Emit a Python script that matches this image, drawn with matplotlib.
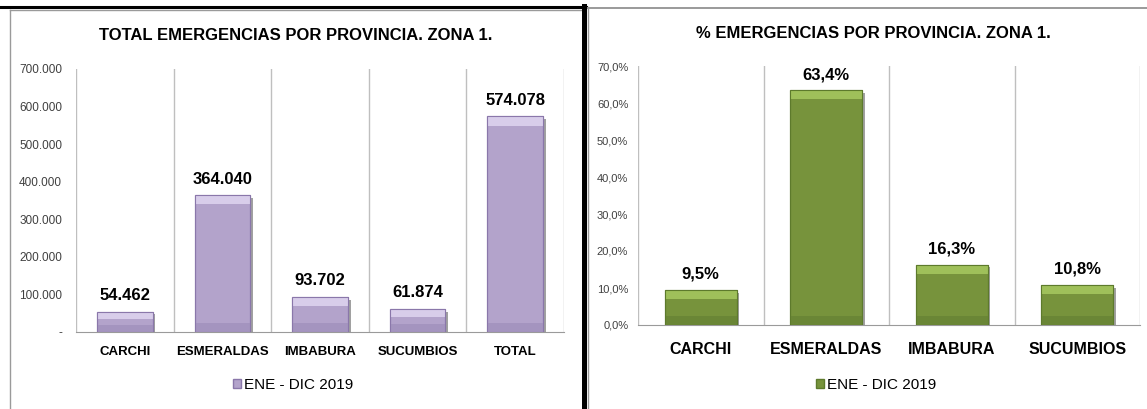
import matplotlib
matplotlib.use('Agg')
import matplotlib.pyplot as plt
import matplotlib.patheffects as pe
from matplotlib.lines import Line2D
from matplotlib.patches import Rectangle
import numpy as np

plt.rcParams['font.family'] = ['Liberation Sans', 'DejaVu Sans']

# data
provincias_total = ['CARCHI', 'ESMERALDAS', 'IMBABURA', 'SUCUMBIOS', 'TOTAL']
emergencias = [54462, 364040, 93702, 61874, 574078]
provincias_pct = ['CARCHI', 'ESMERALDAS', 'IMBABURA', 'SUCUMBIOS']
porcentajes = [9.5, 63.4, 16.3, 10.8]
serie = 'ENE - DIC 2019'


def bevel_bars(ax, x, vals, face, light, dark, edge, ymax):
    shadow = [pe.SimplePatchShadow(offset=(2, -2), alpha=0.45, shadow_rgbFace='#303030'), pe.Normal()]
    bars = ax.bar(x, vals, width=0.57, color=face, edgecolor=edge, linewidth=0.8, zorder=3)
    for b in bars:
        b.set_path_effects(shadow)
    band = [min(0.035 * ymax, v * 0.35) for v in vals]
    ax.bar(x, band, width=0.57, bottom=np.array(vals) - np.array(band), color=light,
           edgecolor='none', zorder=4)
    ax.bar(x, band, width=0.57, color=dark, edgecolor='none', zorder=4)
    ax.bar(x, vals, width=0.57, color='none', edgecolor=edge, linewidth=0.8, zorder=5)


def style_axes(ax, n, ymax):
    ax.set_xlim(-0.5, n - 0.5)
    ax.set_ylim(0, ymax)
    ax.set_xticks(np.append(np.arange(n) - 0.5, n - 0.5), minor=True)
    ax.grid(axis='x', which='minor', color='#bfbfbf', linewidth=1, zorder=0)
    ax.tick_params(axis='both', which='both', length=0)
    for s in ['top', 'right', 'left']:
        ax.spines[s].set_visible(False)
    ax.spines['bottom'].set_color('#9a9a9a')
    ax.set_axisbelow(True)


fig = plt.figure(figsize=(11.47, 4.09), dpi=100)
W, H = 1147.0, 409.0

# ---- left chart: totals
ax1 = fig.add_axes([76 / W, 1 - 332 / H, 488 / W, 263 / H])
x1 = np.arange(len(provincias_total))
bevel_bars(ax1, x1, emergencias, '#b3a3cb', '#d8cdea', '#a494bf', '#8a77aa', 700000)
style_axes(ax1, len(provincias_total), 700000)
yt1 = np.arange(0, 700001, 100000)
ax1.set_yticks(yt1)
ax1.set_yticklabels(['-'] + ['{:,.0f}'.format(v).replace(',', '.') for v in yt1[1:]],
                    fontsize=8.5, color='#404040')
ax1.tick_params(axis='y', pad=10)
ax1.set_xticks(x1)
ax1.set_xticklabels(provincias_total, fontsize=9.5, fontweight='bold')
ax1.tick_params(axis='x', pad=10)
for xi, v in zip(x1, emergencias):
    ax1.annotate('{:,.0f}'.format(v).replace(',', '.'), (xi, v), xytext=(0, 6), textcoords='offset points',
                 ha='center', va='bottom', fontsize=12, fontweight='bold')
ax1.legend([Rectangle((0, 0), 1, 1, facecolor='#b3a3cb', edgecolor='#8a77aa')], [serie],
           loc='center', bbox_to_anchor=(293 / W, 1 - 385 / H), bbox_transform=fig.transFigure,
           frameon=False, fontsize=11, handlelength=0.55, handleheight=0.55, handletextpad=0.2)
fig.text(296 / W, 1 - 35 / H, 'TOTAL EMERGENCIAS POR PROVINCIA. ZONA 1.', ha='center', va='center',
         fontsize=12, fontweight='bold')

# ---- right chart: percentages
ax2 = fig.add_axes([638 / W, 1 - 325 / H, 502 / W, 259 / H])
x2 = np.arange(len(provincias_pct))
bevel_bars(ax2, x2, porcentajes, '#77933c', '#9fc05a', '#6a8636', '#5d7a2c', 70)
style_axes(ax2, len(provincias_pct), 70)
yt2 = np.arange(0, 71, 10)
ax2.set_yticks(yt2)
ax2.set_yticklabels(['{:.1f}%'.format(v).replace('.', ',') for v in yt2], fontsize=8, color='#404040')
ax2.tick_params(axis='y', pad=7)
ax2.set_xticks(x2)
ax2.set_xticklabels(provincias_pct, fontsize=11.5, fontweight='bold')
ax2.tick_params(axis='x', pad=12)
for xi, v in zip(x2, porcentajes):
    ax2.annotate('{:.1f}%'.format(v).replace('.', ','), (xi, v), xytext=(0, 6), textcoords='offset points',
                 ha='center', va='bottom', fontsize=12, fontweight='bold')
ax2.legend([Rectangle((0, 0), 1, 1, facecolor='#77933c', edgecolor='#5d7a2c')], [serie],
           loc='center', bbox_to_anchor=(876 / W, 1 - 385 / H), bbox_transform=fig.transFigure,
           frameon=False, fontsize=11, handlelength=0.55, handleheight=0.55, handletextpad=0.2)
fig.text(873 / W, 1 - 33 / H, '% EMERGENCIAS POR PROVINCIA. ZONA 1.', ha='center', va='center',
         fontsize=12, fontweight='bold')

# frames around both charts
fig.add_artist(Line2D([10 / W, 10 / W], [0, 1 - 10 / H], color='#9a9a9a', lw=1))
fig.add_artist(Line2D([10 / W, 581 / W], [1 - 10 / H, 1 - 10 / H], color='#9a9a9a', lw=1))
fig.add_artist(Line2D([0, 586 / W], [1 - 7 / H, 1 - 7 / H], color='black', lw=2.2))
fig.add_artist(Line2D([583.5 / W, 583.5 / W], [0, 1 - 6 / H], color='black', lw=3.6))
fig.add_artist(Line2D([587.5 / W, 587.5 / W], [0, 1 - 7 / H], color='#9a9a9a', lw=1))
fig.add_artist(Line2D([587.5 / W, 1], [1 - 7.5 / H, 1 - 7.5 / H], color='#9a9a9a', lw=1.4))

fig.savefig('out.png', dpi=100)
